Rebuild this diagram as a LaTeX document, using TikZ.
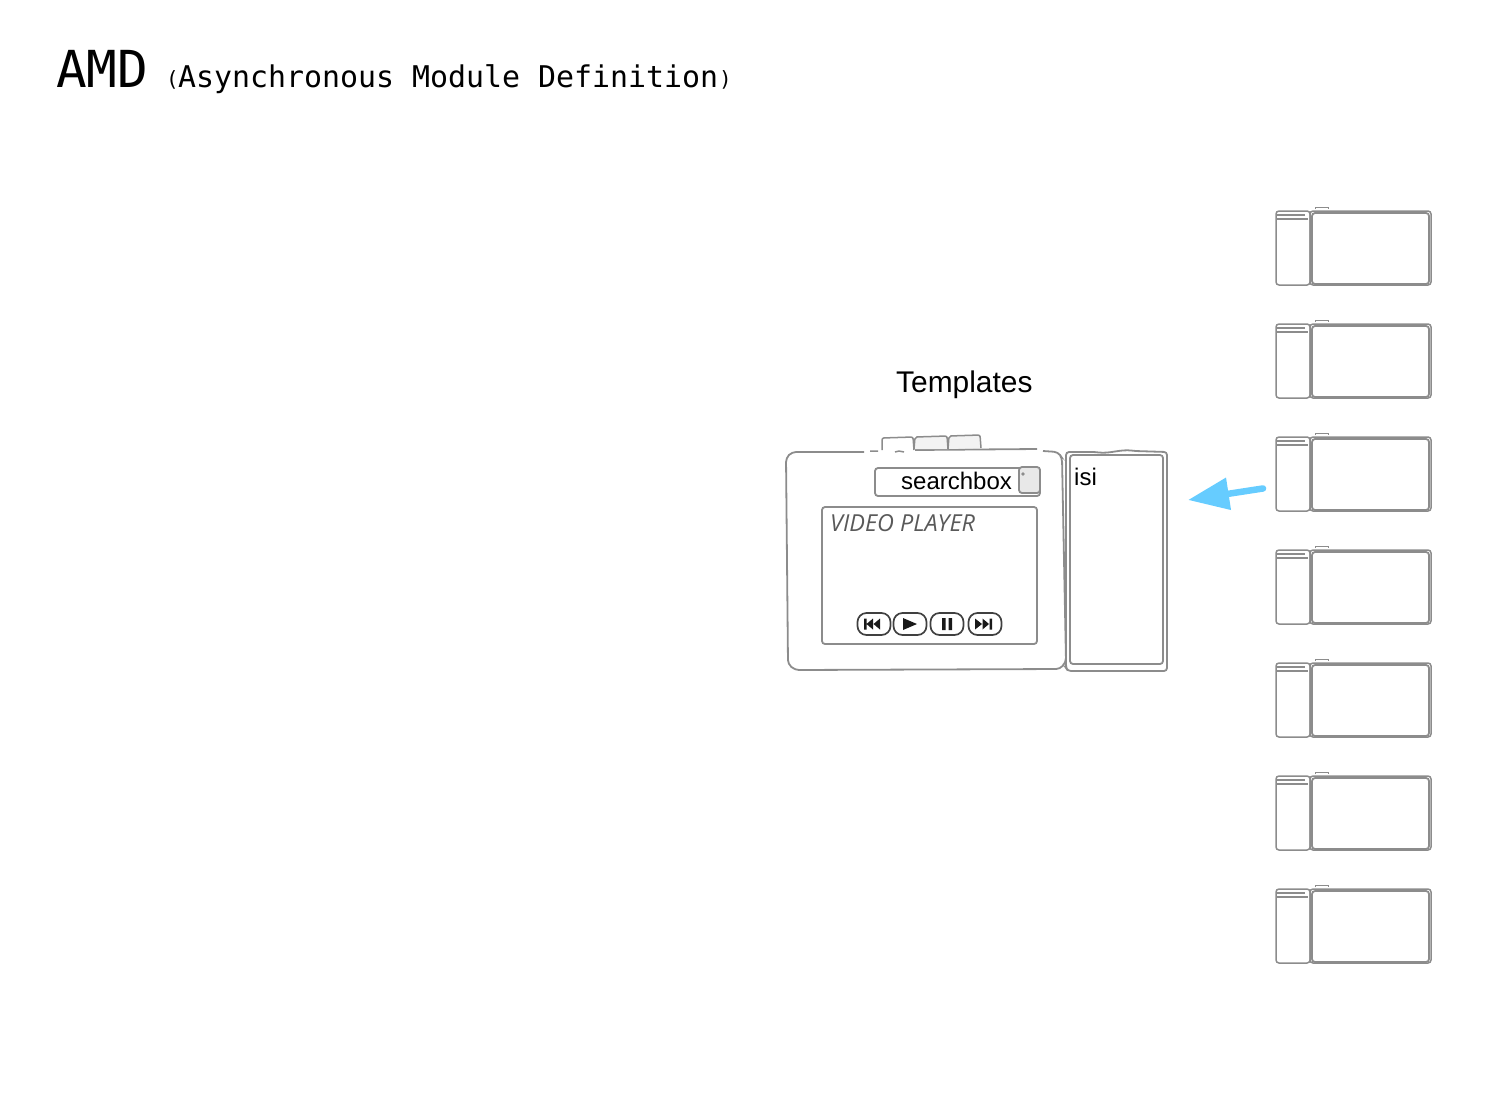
\documentclass[tikz,border=0pt]{standalone}
\usepackage{fontspec}
\setmainfont{Liberation Sans}
\newfontfamily\titlefont{DejaVu Sans Mono}
\newfontfamily\handfont[ItalicFont=* Italic]{Open Sans}
\usetikzlibrary{arrows.meta}
\definecolor{sketchgray}{HTML}{8C8C8C}
\definecolor{arrowblue}{HTML}{66CCFF}
\definecolor{btnfill}{HTML}{E8E8E8}

\begin{document}
\begin{tikzpicture}[x=1pt, y=-1pt]
  \tikzstyle{sketch} = [draw=sketchgray, line width=1.8pt, rounded corners=3pt, inner sep=0pt, outer sep=0pt, anchor=north west]
  \tikzstyle{thin sketch} = [sketch, line width=1.5pt]
  \tikzstyle{ctrl} = [draw=black!75, line width=1.7pt, rounded corners=9pt, inner sep=0pt, minimum width=33pt, minimum height=22pt]
  \tikzstyle{glyph} = [fill=black!90, draw=none]
  \useasboundingbox (0,0) rectangle (1512,1106);

% title
\node[anchor=base west, inner sep=0pt] (amd) at (56,87) {\titlefont\fontsize{51pt}{51pt}\selectfont AMD};
\node[anchor=base west, inner sep=0pt] (open) at (166,86) {\titlefont\fontsize{21pt}{21pt}\selectfont (};
\node[anchor=base west, inner sep=0pt] (amdlong) at (178,87) {\titlefont\fontsize{29.9pt}{30pt}\selectfont Asynchronous Module Definition};
\node[anchor=base west, inner sep=0pt] (close) at (719,86) {\titlefont\fontsize{21pt}{21pt}\selectfont )};
\node[anchor=base west, inner sep=0pt] (templates) at (896,392) {\fontsize{29.9pt}{30pt}\selectfont Templates};

% template page
\draw[sketchgray, line width=1.8pt, rounded corners=4pt] (864,452) -- (792,452) -- (786,458) -- (788,664) -- (795,670) -- (1060,669) -- (1066,662) -- (1062,458) -- (1058,452) -- (1043,451);
\draw[sketchgray, line width=1.8pt] (1037,449) -- (915,450);
\draw[sketchgray, line width=1.5pt] (870,451) -- (878,451) (895,452) -- (899,451) -- (904,452);
\draw[sketchgray, line width=1.5pt, rounded corners=2pt, fill=white] (882,450) -- (882,438) -- (913,437) -- (914,450);
\draw[sketchgray, line width=1.5pt, rounded corners=2pt, fill=btnfill!50] (914,449) -- (915,437) -- (947,436) -- (948,449);
\draw[sketchgray, line width=1.5pt, rounded corners=2pt, fill=btnfill!50] (948,449) -- (949,436) -- (980,435) -- (981,448);

\node[sketch, minimum width=165pt, minimum height=28pt] (search) at (875,468) {};
\node[sketch, fill=btnfill, minimum width=21pt, minimum height=26pt] (searchbtn) at (1019,467) {};
\fill[sketchgray] (1023,474) circle (1.8pt);
\node[anchor=base west, inner sep=0pt] (searchtext) at (901,489) {\fontsize{24pt}{24pt}\selectfont searchbox};

\node[sketch, minimum width=215pt, minimum height=137pt] (player) at (822,507) {};
\node[anchor=base west, inner sep=0pt, text=black!65] (playertext) at (830,531) {\handfont\itshape\fontsize{23.4pt}{24pt}\selectfont VIDEO PLAYER};

\node[ctrl] (prev) at (874,624) {};
\node[ctrl] (play) at (910,624) {};
\node[ctrl] (pause) at (947,624) {};
\node[ctrl] (next) at (985,624) {};
\fill[glyph] (864,618.5) rectangle (866.5,629.5) (873,618.5) -- (873,629.5) -- (866.5,624) -- cycle (880,618.5) -- (880,629.5) -- (873.5,624) -- cycle;
\fill[glyph] (903,618) -- (903,630) -- (917,624) -- cycle;
\fill[glyph] (942,618) rectangle (945.5,630) (948.5,618) rectangle (952,630);
\fill[glyph] (975,618.5) -- (975,629.5) -- (982,624) -- cycle (982.5,618.5) -- (982.5,629.5) -- (989,624) -- cycle (989.5,618.5) rectangle (992,629.5);

% side panel
\draw[sketchgray, line width=1.8pt, rounded corners=3pt] (1066,668) -- (1066,452) -- (1095,452) .. controls (1110,454) and (1120,449) .. (1135,451) -- (1167,452) -- (1167,671) -- (1068,671) -- cycle;
\node[sketch, minimum width=93pt, minimum height=209pt] (isiinner) at (1070,455) {};
\node[anchor=base west, inner sep=0pt] (isitext) at (1074,485) {\fontsize{24pt}{24pt}\selectfont isi};

% modules
\foreach \i in {0,...,6}{
  \begin{scope}[shift={(0,113*\i)}]
    \node[thin sketch, minimum width=34pt, minimum height=74pt] (side\i) at (1276,211) {};
    \draw[sketchgray, line width=2pt] (1277,214.5) -- (1305,214.5) (1277,218.5) -- (1308,218.5);
    \node[thin sketch, minimum width=121pt, minimum height=74pt] (main\i) at (1310,211) {};
    \node[sketch, minimum width=117pt, minimum height=71pt] (inner\i) at (1312,213) {};
    \draw[sketchgray, line width=1pt] (1315,209) -- (1315,207.5) -- (1328,207.5) -- (1328,209);
  \end{scope}
}

% arrow
\coordinate (arrowstart) at (1266,488);
\coordinate (arrowend) at (1188,500);
\draw[-{Stealth[inset=0pt, length=41pt, width=31pt]}, arrowblue, line width=6.5pt, line cap=round, shorten <=3pt] (arrowstart) -- (arrowend);
\end{tikzpicture}
\end{document}
